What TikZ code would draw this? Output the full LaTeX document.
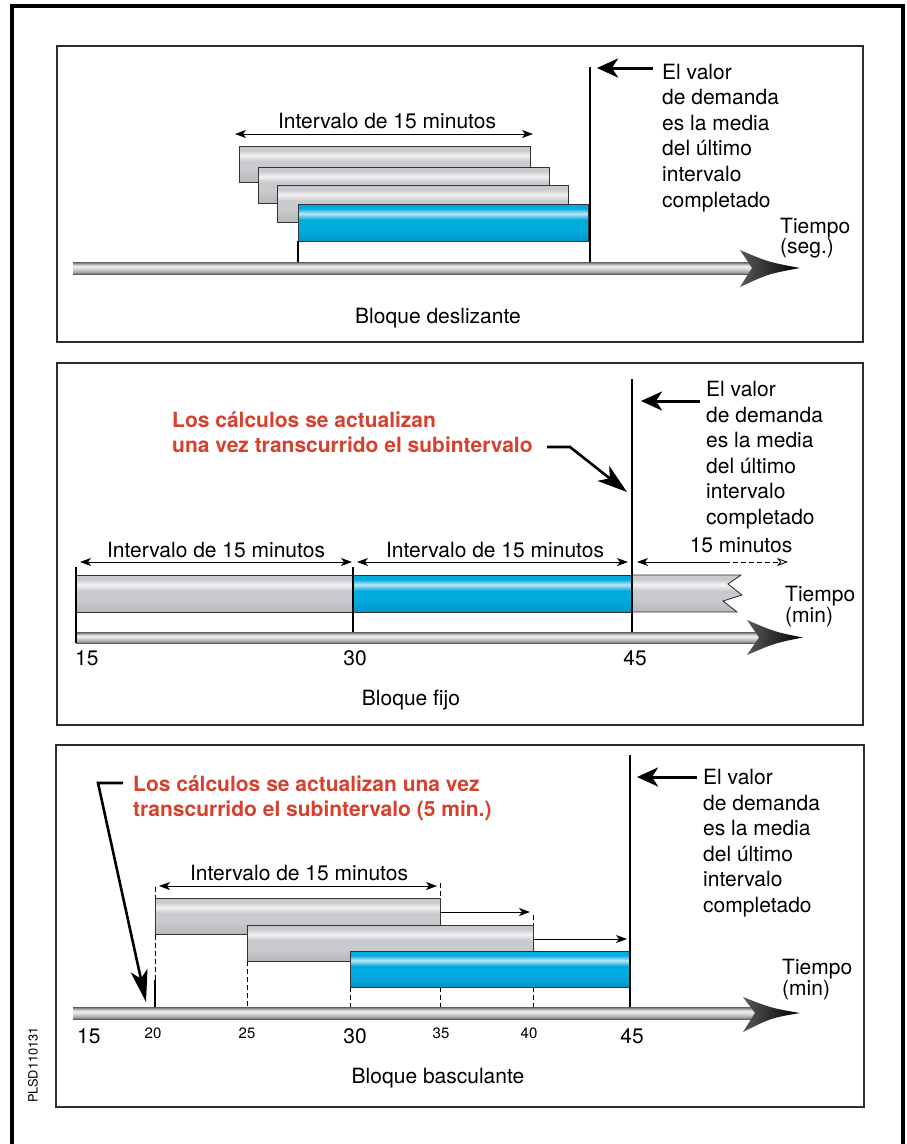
\documentclass[tikz,border=0pt]{standalone}
\usepackage{fontspec}
\setmainfont{TeX Gyre Heros}
\usetikzlibrary{arrows.meta}
\definecolor{rojo}{RGB}{214,64,44}
\definecolor{marco}{RGB}{45,45,45}
\definecolor{gris1}{RGB}{182,184,188}
\definecolor{gris2}{RGB}{200,202,205}
\definecolor{gris3}{RGB}{243,243,244}
\definecolor{azul1}{RGB}{0,150,202}
\definecolor{azul2}{RGB}{0,172,222}
\definecolor{azul3}{RGB}{190,231,247}
\definecolor{tubo1}{RGB}{95,95,97}
\definecolor{tubo2}{RGB}{160,161,163}
\definecolor{tubo3}{RGB}{232,232,233}
\pgfdeclareverticalshading{barragris}{100bp}{color(0bp)=(gris1); color(25bp)=(gris1); color(42bp)=(gris2); color(54bp)=(gris2); color(62bp)=(gris3); color(69bp)=(gris2); color(75bp)=(gris2); color(100bp)=(gris2)}
\pgfdeclareverticalshading{barraazul}{100bp}{color(0bp)=(azul1); color(25bp)=(azul1); color(42bp)=(azul2); color(54bp)=(azul2); color(62bp)=(azul3); color(69bp)=(azul2); color(75bp)=(azul2); color(100bp)=(azul2)}
\pgfdeclareverticalshading{tubo}{100bp}{color(0bp)=(tubo1); color(25bp)=(tubo1); color(32bp)=(tubo2); color(52bp)=(tubo3); color(60bp)=(tubo3); color(68bp)=(tubo2); color(75bp)=(tubo1); color(100bp)=(tubo1)}

\begin{document}
\begin{tikzpicture}[x=1pt, y=-1pt,
    txt/.style={inner sep=0pt, font=\fontsize{21}{25.6}\selectfont},
    bloque/.style={txt, anchor=north west, align=left},
    rojotxt/.style={bloque, text=rojo, font=\fontsize{21}{25}\selectfont\bfseries},
    chico/.style={inner sep=0pt, anchor=base, font=\fontsize{15}{18}\selectfont},
    panel/.style={draw=marco, line width=2.4pt},
    gris/.style={shade, shading=barragris, draw=black!80, line width=0.9pt},
    azul/.style={shade, shading=barraazul, draw=black!80, line width=0.9pt},
    eje/.style={shade, shading=tubo},
    punta/.style={shade, left color=black!65, right color=black},
    marca/.style={line width=2.8pt},
    guia/.style={line width=1pt, dash pattern=on 5pt off 3pt},
    cota/.style={line width=0.9pt, >={Stealth[length=11pt,width=8pt,inset=3pt]}},
    flecha/.style={line width=3pt, -{Stealth[length=21pt,width=19pt,inset=6pt]}},
    aviso/.style={line width=2.6pt, -{Stealth[length=30pt,width=19pt,inset=8pt]}}]
            \useasboundingbox (0,0) rectangle (906,1144);
            \coordinate (M1) at (12,1144);
            \coordinate (M2) at (12,6);
            \coordinate (M3) at (903,6);
            \coordinate (M4) at (903,1144);
            \draw[line width=3.5pt] (M1) -- (M2) -- (M3) -- (M4);
            \node[rotate=90, inner sep=0pt, font=\fontsize{12.8}{14}\selectfont] (cod) at (33,1065) {PLSD110131};

            \draw[panel] (57,46) rectangle (863,342);
            \path[gris] (239,146) rectangle (530,182);
            \path[gris] (258,167) rectangle (549,203);
            \path[gris] (277,185) rectangle (568,222);
            \path[azul] (298,204) rectangle (588,241);
            \path[eje] (73,262) rectangle (752,274);
            \path[punta] (740,250) .. controls (768,262) .. (800,268) .. controls (768,274) .. (740,287) -- (752,268) -- cycle;
            \coordinate (A1) at (298,241);
            \coordinate (A2) at (298,262);
            \coordinate (V1) at (590,67);
            \coordinate (V2) at (590,262);
            \draw[marca] (A1) -- (A2);
            \draw[marca] (V1) -- (V2);
            \coordinate (C1) at (235,134);
            \coordinate (C2) at (533,134);
            \draw[cota, <->] (C1) -- (C2);
            \node[txt, anchor=base] (int1) at (387,128) {Intervalo de 15 minutos};
            \coordinate (F1) at (653,68);
            \coordinate (F2) at (597,68);
            \draw[flecha] (F1) -- (F2);
            \node[bloque] (val1) at (662,63.5) {El valor\\de demanda\\es la media\\del último\\intervalo\\completado};
            \node[bloque, font=\fontsize{21}{20}\selectfont] (tie1) at (780,218) {Tiempo\\(seg.)};
            \node[txt, anchor=base] (blq1) at (438,323) {Bloque deslizante};

            \draw[panel] (57,363) rectangle (863,725);
            \node[rojotxt] (roj2) at (172,412) {Los cálculos se actualizan\\una vez transcurrido el subintervalo};
            \coordinate (L1) at (547,447);
            \coordinate (L2) at (570,447);
            \coordinate (L3) at (627,492);
            \draw[aviso] (L1) -- (L2) -- (L3);
            \path[gris] (76,575) rectangle (353,612);
            \path[azul] (353,575) rectangle (632,612);
            \path[gris] (632,575) -- (741,575) -- (728,584) -- (742,595) -- (723,601) -- (737,612) -- (632,612) -- cycle;
            \path[eje] (76,632) rectangle (759,643);
            \path[punta] (747,620) .. controls (775,632) .. (803,637.5) .. controls (775,643) .. (747,655) -- (759,637.5) -- cycle;
            \coordinate (B1) at (76,567);
            \coordinate (B2) at (76,643);
            \coordinate (B3) at (353,567);
            \coordinate (B4) at (353,632);
            \coordinate (V3) at (632,379);
            \coordinate (V4) at (632,632);
            \draw[marca] (B1) -- (B2);
            \draw[marca] (B3) -- (B4);
            \draw[marca] (V3) -- (V4);
            \coordinate (D1) at (80,562);
            \coordinate (D2) at (352,562);
            \coordinate (D3) at (357,562);
            \coordinate (D4) at (628,562);
            \coordinate (D5) at (637,562);
            \coordinate (D6) at (725,562);
            \coordinate (D7) at (788,562);
            \draw[cota, <->] (D1) -- (D2);
            \draw[cota, <->] (D3) -- (D4);
            \draw[cota, <-] (D5) -- (D6);
            \draw[guia, line width=0.9pt, -{Stealth[open,length=11pt,width=8pt,inset=3pt]}] (D6) -- (D7);
            \node[txt, anchor=base] (int2) at (216,557) {Intervalo de 15 minutos};
            \node[txt, anchor=base] (int3) at (495,557) {Intervalo de 15 minutos};
            \node[txt, anchor=base] (min2) at (741,552) {15 minutos};
            \coordinate (F3) at (700,401);
            \coordinate (F4) at (641,401);
            \draw[flecha] (F3) -- (F4);
            \node[bloque] (val2) at (706,381) {El valor\\de demanda\\es la media\\del último\\intervalo\\completado};
            \node[bloque, font=\fontsize{21}{19.5}\selectfont] (tie2) at (785,586) {Tiempo\\(min)};
            \node[txt, anchor=base west] (n15a) at (75,665) {15};
            \node[txt, anchor=base] (n30a) at (355,665) {30};
            \node[txt, anchor=base] (n45a) at (635,665) {45};
            \node[txt, anchor=base] (blq2) at (411,705) {Bloque fijo};

            \draw[panel] (56,745) rectangle (864,1107);
            \node[rojotxt] (roj3) at (133,775) {Los cálculos se actualizan una vez\\transcurrido el subintervalo (5 min.)};
            \coordinate (L4) at (123,783);
            \coordinate (L5) at (98,783);
            \coordinate (L6) at (146,1002);
            \draw[aviso, -{Stealth[length=32pt,width=17pt,inset=8pt]}] (L4) -- (L5) -- (L6);
            \coordinate (G1) at (155,887);
            \coordinate (G2) at (155,1007);
            \coordinate (G3) at (247,961);
            \coordinate (G4) at (247,1007);
            \coordinate (G5) at (350,987);
            \coordinate (G6) at (350,1007);
            \coordinate (G7) at (440,883);
            \coordinate (G8) at (440,1007);
            \coordinate (G9) at (533,915);
            \coordinate (G10) at (533,1007);
            \draw[guia] (G1) -- (G2);
            \draw[guia] (G3) -- (G4);
            \draw[guia] (G5) -- (G6);
            \draw[guia] (G7) -- (G8);
            \draw[guia] (G9) -- (G10);
            \path[gris] (155,898) rectangle (440,934);
            \path[gris] (247,925) rectangle (533,961);
            \path[azul] (350,951) rectangle (629,987);
            \path[eje] (73,1007) rectangle (755,1019);
            \path[punta] (743,997) .. controls (771,1008) .. (800,1013) .. controls (771,1018) .. (743,1032) -- (755,1013) -- cycle;
            \coordinate (S1) at (155,980);
            \draw[line width=2pt] (S1) -- (G2);
            \coordinate (V5) at (630,755);
            \coordinate (V6) at (630,1007);
            \draw[marca] (V5) -- (V6);
            \coordinate (E1) at (159,886);
            \coordinate (E2) at (437,886);
            \coordinate (E3) at (440,912);
            \coordinate (E4) at (530,912);
            \coordinate (E5) at (533,939);
            \coordinate (E6) at (627,939);
            \draw[cota, <->] (E1) -- (E2);
            \draw[cota, ->] (E3) -- (E4);
            \draw[cota, ->] (E5) -- (E6);
            \node[txt, anchor=base] (int4) at (299,880) {Intervalo de 15 minutos};
            \coordinate (F5) at (697,777);
            \coordinate (F6) at (637,777);
            \draw[flecha] (F5) -- (F6);
            \node[bloque] (val3) at (703,769) {El valor\\de demanda\\es la media\\del último\\intervalo\\completado};
            \node[bloque, font=\fontsize{21}{21}\selectfont] (tie3) at (782,959) {Tiempo\\(min)};
            \node[txt, anchor=base west] (n15b) at (77,1043) {15};
            \node[chico] (n20) at (153,1038) {20};
            \node[chico] (n25) at (247,1038) {25};
            \node[txt, anchor=base] (n30b) at (355,1043) {30};
            \node[chico] (n35) at (441,1038) {35};
            \node[chico] (n40) at (529,1038) {40};
            \node[txt, anchor=base] (n45b) at (632,1043) {45};
            \node[txt, anchor=base] (blq3) at (438,1083) {Bloque basculante};
        \end{tikzpicture}
\end{document}
